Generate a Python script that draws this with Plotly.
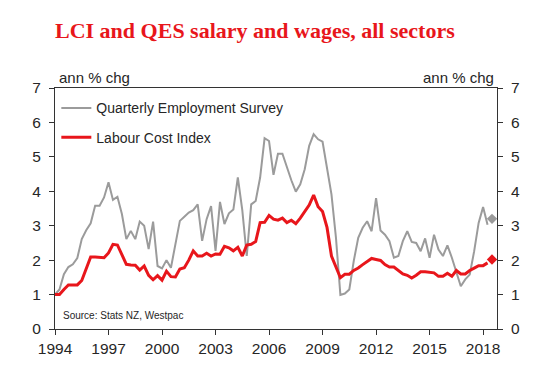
import plotly.graph_objects as go

start_year = 1994
# Quarterly annual % change, 1994Q1 .. 2018Q2
qes = [1.0, 1.15, 1.59, 1.8, 1.88, 2.06, 2.61, 2.87, 3.07, 3.58,
       3.58, 3.82, 4.26, 3.75, 3.84, 3.34, 2.61, 2.85, 2.61, 3.12,
       3.0, 2.32, 3.12, 1.83, 1.76, 2.0, 1.78, 2.46, 3.14, 3.26,
       3.38, 3.45, 3.62, 2.56, 3.19, 3.57, 2.27, 3.69, 3.05, 3.36,
       3.47, 4.4, 3.45, 2.12, 3.62, 3.72, 4.4, 5.54, 5.46, 4.48,
       5.09, 5.09, 4.69, 4.32, 3.99, 4.2, 4.64, 5.32, 5.66, 5.51,
       5.44, 4.69, 3.91, 2.66, 0.99, 1.03, 1.15, 1.98, 2.65, 2.94,
       3.13, 2.84, 3.8, 2.86, 2.74, 2.55, 2.07, 2.12, 2.55, 2.84,
       2.53, 2.5, 2.26, 2.63, 2.07, 2.74, 2.31, 2.12, 2.43, 2.07,
       1.68, 1.24, 1.44, 1.58, 2.26, 3.08, 3.54, 3.03]
lci = [1.0, 1.0, 1.15, 1.28, 1.28, 1.28, 1.41, 1.74, 2.09, 2.09,
       2.09, 2.07, 2.21, 2.46, 2.44, 2.17, 1.88, 1.86, 1.85, 1.71,
       1.83, 1.56, 1.43, 1.55, 1.42, 1.68, 1.52, 1.51, 1.74, 1.78,
       2.0, 2.27, 2.12, 2.12, 2.2, 2.12, 2.18, 2.17, 2.4, 2.36,
       2.27, 2.37, 2.12, 2.44, 2.46, 2.54, 3.09, 3.1, 3.3, 3.19,
       3.16, 3.22, 3.09, 3.16, 3.06, 3.22, 3.41, 3.6, 3.89, 3.55,
       3.41, 2.95, 2.12, 1.78, 1.49, 1.59, 1.59, 1.7, 1.77, 1.87,
       1.97, 2.05, 2.02, 1.99, 1.87, 1.8, 1.8, 1.7, 1.6, 1.56,
       1.48, 1.56, 1.66, 1.66, 1.65, 1.63, 1.53, 1.53, 1.62, 1.53,
       1.7, 1.6, 1.6, 1.7, 1.77, 1.84, 1.84, 1.92]
# Forecast points (2018Q3)
fc_x = [2018.5]
qes_fc = [3.2]
lci_fc = [2.02]

x_ticks = [1994, 1997, 2000, 2003, 2006, 2009, 2012, 2015, 2018]
y_ticks = [0, 1, 2, 3, 4, 5, 6, 7]

quarters = [start_year + i * 0.25 for i in range(len(qes))]

GREY = "#9b9b9b"
RED = "#e8161b"
TXT = "#262626"
AX = "#333333"

fig = go.Figure()
fig.add_trace(go.Scatter(x=quarters, y=qes, mode="lines", name="Quarterly Employment Survey",
                         line=dict(color=GREY, width=2), legendgroup="a"))
fig.add_trace(go.Scatter(x=quarters, y=lci, mode="lines", name="Labour Cost Index",
                         line=dict(color=RED, width=3), legendgroup="b"))
fig.add_trace(go.Scatter(x=fc_x, y=qes_fc, mode="markers", showlegend=False,
                         marker=dict(symbol="diamond", size=8, color=GREY)))
fig.add_trace(go.Scatter(x=fc_x, y=lci_fc, mode="markers", showlegend=False,
                         marker=dict(symbol="diamond", size=8, color=RED)))
# invisible trace to activate the right axis
fig.add_trace(go.Scatter(x=fc_x, y=lci_fc, yaxis="y2", mode="markers", showlegend=False,
                         marker=dict(opacity=0), hoverinfo="skip"))

tickfont = dict(family="Arial, Liberation Sans, sans-serif", size=15.5, color=TXT)

fig.update_layout(
    width=534, height=371,
    margin=dict(l=46.7, r=44.7, t=80.3, b=50),
    paper_bgcolor="white", plot_bgcolor="white",
    showlegend=True,
    legend=dict(x=0.003, xanchor="left", y=0.982, yanchor="top",
                font=dict(family="Arial, Liberation Sans, sans-serif", size=14, color=TXT),
                bgcolor="rgba(0,0,0,0)", tracegroupgap=8, traceorder="grouped"),
    xaxis=dict(range=[1994, 2018.78], tickvals=x_ticks, ticktext=[str(v) for v in x_ticks],
               ticks="outside", ticklen=5, tickcolor=AX, showline=True, linecolor=AX,
               linewidth=1, mirror=True, showgrid=False, zeroline=False, tickfont=tickfont),
    yaxis=dict(range=[0, 7], tickvals=y_ticks, ticks="outside", ticklen=5, tickcolor=AX,
               showline=True, linecolor=AX, linewidth=1, showgrid=False, zeroline=False,
               tickfont=tickfont, ticklabelstandoff=5),
    yaxis2=dict(range=[0, 7], tickvals=y_ticks, ticks="outside", ticklen=5, tickcolor=AX,
                showline=True, linecolor=AX, linewidth=1, showgrid=False, zeroline=False,
                overlaying="y", side="right", tickfont=tickfont, ticklabelstandoff=5),
    annotations=[
        dict(text="<b>LCI and QES salary and wages, all sectors</b>", xref="paper", yref="paper",
             x=0, y=1.238, xanchor="left", yanchor="middle", showarrow=False, xshift=-2,
             font=dict(family="Liberation Serif, Times New Roman, serif", size=22, color=RED)),
        dict(text="ann % chg", xref="paper", yref="paper", x=0.005, y=1, xanchor="left",
             yanchor="bottom", showarrow=False,
             font=dict(family="Arial, Liberation Sans, sans-serif", size=15, color=TXT)),
        dict(text="ann % chg", xref="paper", yref="paper", x=1, y=1, xanchor="right",
             yanchor="bottom", showarrow=False, xshift=-1,
             font=dict(family="Arial, Liberation Sans, sans-serif", size=15, color=TXT)),
        dict(text="Source: Stats NZ, Westpac", xref="paper", yref="paper", x=0.014, y=0.058,
             xanchor="left", yanchor="middle", showarrow=False,
             font=dict(family="Arial, Liberation Sans, sans-serif", size=10, color=TXT)),
    ],
)

fig.write_html("out.html")
